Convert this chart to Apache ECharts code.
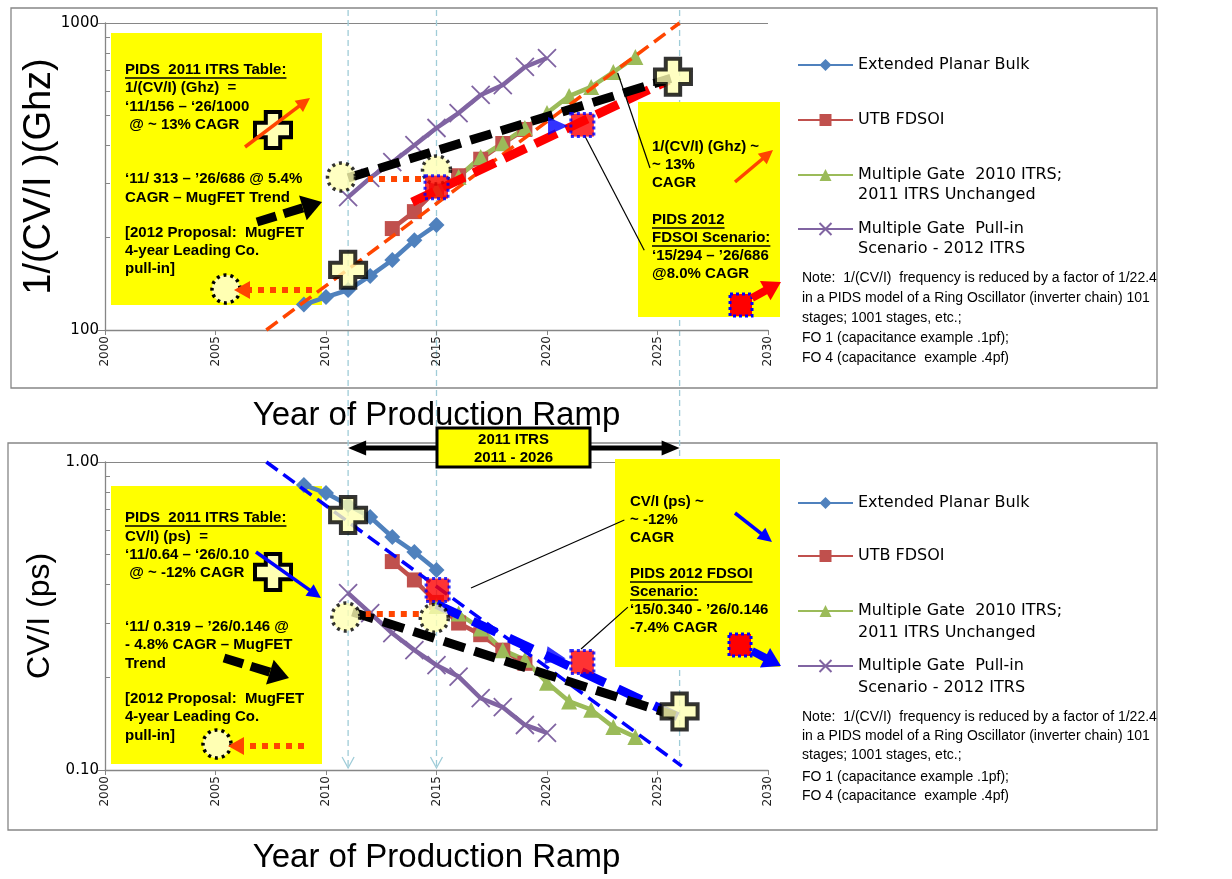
<!DOCTYPE html>
<html><head><meta charset="utf-8">
<script src="https://cdn.jsdelivr.net/npm/echarts@6/dist/echarts.min.js"></script>
<style>html,body{margin:0;padding:0;background:#fff}#c{width:1232px;height:879px}</style>
</head><body><div id="c"></div>
<script>
// ---------------- data ----------------
const seriesNames = ['Extended Planar Bulk', 'UTB FDSOI', 'Multiple Gate  2010 ITRS;\n2011 ITRS Unchanged', 'Multiple Gate  Pull-in\nScenario - 2012 ITRS'];
const planarYears = [2009, 2010, 2011, 2012, 2013, 2014, 2015];
const planarGhz   = [121, 128, 135, 150, 169, 196, 220];
const planarPs    = [0.842, 0.793, 0.725, 0.663, 0.571, 0.510, 0.446];
const fdsoiYears  = [2013, 2014, 2015, 2016, 2017, 2018, 2019];
const fdsoiGhz    = [214, 243, 286, 318, 360, 405, 450];
const fdsoiPs     = [0.475, 0.414, 0.35, 0.30, 0.275, 0.245, 0.222];
const mg2010Years = [2015, 2016, 2017, 2018, 2019, 2020, 2021, 2022, 2023, 2024];
const mg2010Ghz   = [286, 315, 366, 406, 455, 509, 578, 619, 692, 775];
const mg2010Ps    = [0.341, 0.322, 0.288, 0.245, 0.228, 0.192, 0.167, 0.157, 0.138, 0.128];
const pullinYears = [2011, 2012, 2013, 2014, 2015, 2016, 2017, 2018, 2019, 2020];
const pullinGhz   = [271, 313, 352, 400, 455, 509, 583, 628, 719, 769];
const pullinPs    = [0.375, 0.323, 0.278, 0.245, 0.219, 0.201, 0.171, 0.160, 0.140, 0.132];

const xTicks = [2000, 2005, 2010, 2015, 2020, 2025, 2030];
const ghzTickLabels = [100, 1000];
const ghzMinorTicks = [200, 300, 400, 500, 600, 700, 800, 900];
const psTickLabels = [0.1, 1];
const psMinorTicks = [0.2, 0.3, 0.4, 0.5, 0.6, 0.7, 0.8, 0.9];
const markerYears = [2011, 2015, 2026];

// annotation trend lines (data coordinates)
const itrsTrendGhz   = [[2007.3, 100], [2026, 1000]];
const mugfetTrendGhz = [[2011, 313], [2025.6, 660]];
const fdsoiTrendGhz  = [[2013.9, 261], [2025.5, 650]];
const pullinArrowGhz = [[2014.3, 312], [2011.9, 312]];
const calloutGhzA    = [[2024.66, 337], [2023.2, 687]];
const calloutGhzB    = [[2024.4, 182], [2021.7, 430]];
const circlesGhz     = [[2010.7, 315], [2015, 332]];
const squaresGhz     = [[2015, 292], [2021.6, 465]];
const crossesGhz     = [[2011, 157], [2025.7, 668]];
const blueHeadGhz    = [2020.5, 462];

const itrsTrendPs   = [[2007.3, 1.0], [2026.1, 0.103]];
const mugfetTrendPs = [[2011.2, 0.326], [2025.8, 0.150]];
const fdsoiTrendPs  = [[2015, 0.345], [2026, 0.148]];
const pullinArrowPs = [[2014.2, 0.322], [2011.8, 0.322]];
const calloutPsA    = [[2023.5, 0.648], [2016.56, 0.39]];
const calloutPsB    = [[2023.66, 0.338], [2021.54, 0.247]];
const circlesPs     = [[2010.9, 0.314], [2014.9, 0.311]];
const squaresPs     = [[2015.05, 0.384], [2021.6, 0.224]];
const crossesPs     = [[2011, 0.673], [2026, 0.155]];
const blueHeadPs    = [2020.4, 0.233];

// ---------------- styles ----------------
const COLORS = ['#4F81BD', '#C0504D', '#9BBB59', '#8064A2'];
const SYMBOLS = ['diamond', 'rect', 'triangle', 'path://M0,0L10,10M10,0L0,10'];
const SIZES = [16, 15, 16, 18];
const AXIS_GRAY = '#868686';
const ORANGE = '#FF4500';
const LIGHT_Y = '#FFFFB3';
const CROSS_PATH = 'path://M6,0H14V6H20V14H14V20H6V14H0V6H6Z';

function zip(xs, ys) { return xs.map((x, i) => [x, ys[i]]); }

function dataSeries(idx, xs, ys, xi, yi) {
  const isX = idx === 3;
  return {
    type: 'line', name: seriesNames[idx], xAxisIndex: xi, yAxisIndex: yi,
    data: zip(xs, ys), symbol: SYMBOLS[idx], symbolSize: SIZES[idx], showAllSymbol: true,
    lineStyle: { color: COLORS[idx], width: 4.5 },
    itemStyle: isX ? { color: COLORS[idx], borderColor: COLORS[idx], borderWidth: 1.8 } : { color: COLORS[idx] },
    z: 2, silent: true
  };
}

function annLine(xi, yi, pts, color, width, dash, endSize) {
  return {
    type: 'line', xAxisIndex: xi, yAxisIndex: yi, data: pts, symbol: 'none',
    lineStyle: { opacity: 0 }, silent: true, z: 5,
    markLine: {
      silent: true, animation: false, symbol: ['none', 'arrow'], symbolSize: [0, endSize],
      label: { show: false }, emphasis: { disabled: true },
      lineStyle: { color: color, width: width, type: dash, cap: 'butt' },
      data: [[{ coord: pts[0] }, { coord: pts[1] }]]
    }
  };
}

function annPoints(xi, yi, circles, squares, crosses, blueHead, rot) {
  const d = [];
  circles.forEach(p => d.push({ value: p, symbol: 'circle', symbolSize: 28,
    itemStyle: { color: LIGHT_Y, borderColor: '#000', borderWidth: 3.5, borderType: [3, 4] } }));
  d.push({ value: blueHead, symbol: 'triangle', symbolSize: [18, 20], symbolRotate: rot,
    itemStyle: { color: '#0000FF' } });
  squares.forEach(p => d.push({ value: p, symbol: 'rect', symbolSize: 23,
    itemStyle: { color: '#FF0000', borderColor: '#0000FF', borderWidth: 3, borderType: [3, 3] } }));
  crosses.forEach(p => d.push({ value: p, symbol: CROSS_PATH, symbolSize: 36,
    itemStyle: { color: LIGHT_Y, borderColor: '#000', borderWidth: 4 } }));
  return { type: 'scatter', xAxisIndex: xi, yAxisIndex: yi, data: d, z: 6, silent: true };
}

function xAxisDef(gi, gap) {
  return {
    type: 'value', gridIndex: gi, min: 2000, max: 2030, interval: 5,
    name: 'Year of Production Ramp', nameLocation: 'middle', nameGap: gap, nameMoveOverlap: false,
    nameTextStyle: { fontFamily: 'Liberation Sans', fontSize: 33, color: '#000' },
    axisLine: { lineStyle: { color: AXIS_GRAY, width: 1.3 } },
    axisTick: { show: true, length: 5, lineStyle: { color: AXIS_GRAY } },
    axisLabel: { rotate: 90, margin: 6, fontFamily: 'DejaVu Sans', fontSize: 12, color: '#222',
      customValues: xTicks, formatter: v => String(v) },
    splitLine: { show: false }
  };
}

function yMain(gi, name, min, max, labels, fmt, nameSize, nameGap) {
  return {
    type: 'log', logBase: 10, gridIndex: gi, min: min, max: max,
    name: name, nameLocation: 'middle', nameRotate: 90, nameGap: nameGap, nameMoveOverlap: false,
    nameTextStyle: { fontFamily: 'Liberation Sans', fontSize: nameSize, color: '#000' },
    axisLine: { show: true, lineStyle: { color: AXIS_GRAY, width: 1.3 } },
    axisTick: { show: true, length: 7, customValues: labels, lineStyle: { color: AXIS_GRAY } },
    axisLabel: { margin: 6, fontFamily: 'DejaVu Sans', fontSize: 15, color: '#000',
      customValues: labels, formatter: fmt },
    splitLine: { show: true, lineStyle: { color: AXIS_GRAY, width: 1 } }
  };
}
function yMinor(gi, min, max, ticks) {
  return {
    type: 'log', logBase: 10, gridIndex: gi, min: min, max: max, position: 'left',
    axisLine: { show: false }, axisLabel: { show: false }, splitLine: { show: false },
    axisTick: { show: true, inside: true, length: 5, customValues: ticks, lineStyle: { color: AXIS_GRAY } }
  };
}

const legendCommon = {
  orient: 'vertical', left: 797, itemWidth: 55, itemHeight: 15, itemGap: 0, padding: 0,
  selectedMode: false
};
function legendItem(name, top, lh, twoLine) {
  return Object.assign({}, legendCommon, {
    top: top, data: [name],
    formatter: twoLine ? (n => '\n' + n) : (n => n),
    textStyle: { fontFamily: 'DejaVu Sans', fontSize: 16, color: '#000', lineHeight: lh }
  });
}

const option = {
  animation: false,
  backgroundColor: '#ffffff',
  grid: [
    { left: 105, right: 464, top: 23, height: 307 },
    { left: 105, right: 464, top: 462, height: 308 }
  ],
  xAxis: [xAxisDef(0, 69), xAxisDef(1, 71)],
  yAxis: [
    yMain(0, '1/(CV/I )(Ghz)', 100, 1000, ghzTickLabels, v => String(Math.round(v)), 38, 46),
    yMinor(0, 100, 1000, ghzMinorTicks),
    yMain(1, 'CV/I (ps)', 0.1, 1, psTickLabels, v => Number(v).toFixed(2), 32, 49),
    yMinor(1, 0.1, 1, psMinorTicks)
  ],
  legend: [
    legendItem(seriesNames[0], 55, 20, false),
    legendItem(seriesNames[1], 110, 20, false),
    legendItem(seriesNames[2], 145, 20, true),
    legendItem(seriesNames[3], 199, 20, true),
    legendItem(seriesNames[0], 492, 22, false),
    legendItem(seriesNames[1], 545, 22, false),
    legendItem(seriesNames[2], 578, 22, true),
    legendItem(seriesNames[3], 633, 22, true)
  ],
  series: [
    dataSeries(0, planarYears, planarGhz, 0, 0),
    dataSeries(1, fdsoiYears, fdsoiGhz, 0, 0),
    dataSeries(2, mg2010Years, mg2010Ghz, 0, 0),
    dataSeries(3, pullinYears, pullinGhz, 0, 0),
    dataSeries(0, planarYears, planarPs, 1, 2),
    dataSeries(1, fdsoiYears, fdsoiPs, 1, 2),
    dataSeries(2, mg2010Years, mg2010Ps, 1, 2),
    dataSeries(3, pullinYears, pullinPs, 1, 2),
    // top annotations
    annLine(0, 0, itrsTrendGhz, ORANGE, 3.5, [14, 7], 14),
    annLine(0, 0, fdsoiTrendGhz, '#FF0000', 9, [24, 10], 24),
    annLine(0, 0, mugfetTrendGhz, '#000000', 9, [22, 10], 26),
    annLine(0, 0, pullinArrowGhz, ORANGE, 6, [6, 6], 16),
    annLine(0, 0, calloutGhzA, '#000000', 1.2, 'solid', 9),
    annLine(0, 0, calloutGhzB, '#000000', 1.2, 'solid', 9),
    annPoints(0, 0, circlesGhz, squaresGhz, crossesGhz, blueHeadGhz, -90),
    // bottom annotations
    annLine(1, 2, itrsTrendPs, '#0000FF', 3.5, [14, 7], 14),
    annLine(1, 2, fdsoiTrendPs, '#0000FF', 9, [26, 14], 24),
    annLine(1, 2, mugfetTrendPs, '#000000', 9, [22, 10], 26),
    annLine(1, 2, pullinArrowPs, ORANGE, 6, [6, 6], 16),
    annLine(1, 2, calloutPsA, '#000000', 1.2, 'solid', 9),
    annLine(1, 2, calloutPsB, '#000000', 1.2, 'solid', 9),
    annPoints(1, 2, circlesPs, squaresPs, crossesPs, blueHeadPs, -100)
  ]
};

const chart = echarts.init(document.getElementById('c'), null, { renderer: 'canvas' });
chart.setOption(option);

// ---------------- annotation graphics (boxes, keys, guides) ----------------
const g = [];
const mctx = document.createElement('canvas').getContext('2d');
const BOXFONT = 'bold 15px "Liberation Sans", Arial, sans-serif';
const NOTEFONT = '14px "Liberation Sans", Arial, sans-serif';

function rect(x, y, w, h, fill, stroke, lw, z) {
  g.push({ type: 'rect', z: z, silent: true, shape: { x: x, y: y, width: w, height: h },
    style: { fill: fill, stroke: stroke, lineWidth: lw } });
}
function text(x, y, str, font, underline, align, z) {
  g.push({ type: 'text', z: z || 3, silent: true, x: x, y: y,
    style: { text: str, font: font, fill: '#000', verticalAlign: 'middle', align: align || 'left' } });
  if (underline) {
    mctx.font = font;
    const w = mctx.measureText(str).width;
    g.push({ type: 'line', z: z || 3, silent: true, shape: { x1: x, y1: y + 8, x2: x + w, y2: y + 8 },
      style: { stroke: '#000', lineWidth: 1.6 } });
  }
}
function line(x1, y1, x2, y2, color, w, dash, z) {
  g.push({ type: 'line', z: z, silent: true, shape: { x1: x1, y1: y1, x2: x2, y2: y2 },
    style: { stroke: color, lineWidth: w, lineDash: dash || null, lineCap: 'butt' } });
}
function arrow(x1, y1, x2, y2, color, w, dash, hl, hw, z) {
  const dx = x2 - x1, dy = y2 - y1, L = Math.hypot(dx, dy), ux = dx / L, uy = dy / L;
  const bx = x2 - ux * hl, by = y2 - uy * hl;
  line(x1, y1, bx + ux * 2, by + uy * 2, color, w, dash, z);
  g.push({ type: 'polygon', z: z, silent: true,
    shape: { points: [[x2, y2], [bx - uy * hw / 2, by + ux * hw / 2], [bx + uy * hw / 2, by - ux * hw / 2]] },
    style: { fill: color } });
}
function cross(cx, cy, s, z) {
  const a = s / 2, b = s * 0.2;
  const pts = [[-b, -a], [b, -a], [b, -b], [a, -b], [a, b], [b, b], [b, a], [-b, a], [-b, b], [-a, b], [-a, -b], [-b, -b]]
    .map(p => [cx + p[0], cy + p[1]]);
  g.push({ type: 'polygon', z: z, silent: true, shape: { points: pts },
    style: { fill: LIGHT_Y, stroke: '#000', lineWidth: 4 } });
}
function dotCircle(cx, cy, r, z) {
  g.push({ type: 'circle', z: z, silent: true, shape: { cx: cx, cy: cy, r: r },
    style: { fill: LIGHT_Y, stroke: '#000', lineWidth: 3.5, lineDash: [3, 4] } });
}
function redSquare(cx, cy, s, z) {
  g.push({ type: 'rect', z: z, silent: true, shape: { x: cx - s / 2, y: cy - s / 2, width: s, height: s },
    style: { fill: '#FF0000', stroke: '#0000FF', lineWidth: 3, lineDash: [3, 3] } });
}

// frames
rect(11, 8, 1146, 380, 'none', AXIS_GRAY, 1.3, 0);
rect(8, 443, 1149, 387, 'none', AXIS_GRAY, 1.3, 0);

// vertical guide lines through both panels
const GUIDE = '#9FCCD8';
markerYears.forEach((yr, i) => {
  const x = chart.convertToPixel({ xAxisIndex: 0 }, yr);
  line(x, 10, x, i < 2 ? 768 : 770, GUIDE, 1.3, [6, 4], 0);
  if (i < 2) {
    g.push({ type: 'polyline', z: 0, silent: true, shape: { points: [[x - 6, 757], [x, 768], [x + 6, 757]] },
      style: { stroke: GUIDE, lineWidth: 1.3, fill: 'none' } });
  }
});

// yellow boxes
rect(111, 33, 211, 272, '#FFFF00', null, 0, 1);
rect(638, 102, 142, 215, '#FFFF00', null, 0, 1);
rect(111, 486, 211, 278, '#FFFF00', null, 0, 1);
rect(615, 459, 165, 208, '#FFFF00', null, 0, 1);

// top-left box text + keys
text(125, 70, 'PIDS  2011 ITRS Table:', BOXFONT, true);
text(125, 88, '1/(CV/I) (Ghz)  =', BOXFONT);
text(125, 107, '\u201811/156 \u2013 \u201826/1000', BOXFONT);
text(125, 125, ' @ ~ 13% CAGR', BOXFONT);
text(125, 179, '\u201811/ 313 \u2013 \u201926/686 @ 5.4%', BOXFONT);
text(125, 198, 'CAGR \u2013 MugFET Trend', BOXFONT);
text(125, 233, '[2012 Proposal:  MugFET', BOXFONT);
text(125, 251, '4-year Leading Co.', BOXFONT);
text(125, 269, 'pull-in]', BOXFONT);
cross(273, 130, 36, 3);
arrow(245, 147, 310, 98, ORANGE, 3.5, null, 14, 14, 4);
arrow(257, 222, 322, 202, '#000', 9, [20, 8], 20, 26, 4);
dotCircle(226, 289, 14, 3);
arrow(312, 290, 234, 290, ORANGE, 6, [6, 6], 16, 18, 4);

// top-right box
text(652, 147, '1/(CV/I) (Ghz) ~', BOXFONT);
text(652, 165, '~ 13%', BOXFONT);
text(652, 183, 'CAGR', BOXFONT);
text(652, 220, 'PIDS 2012', BOXFONT, true);
text(652, 238, 'FDSOI Scenario:', BOXFONT, true);
text(652, 256, '\u201815/294 \u2013 \u201926/686', BOXFONT);
text(652, 274, '@8.0% CAGR', BOXFONT);
arrow(735, 182, 773, 150, ORANGE, 3.5, null, 14, 14, 4);
redSquare(741, 305, 22, 3);
arrow(752, 298, 781, 282, '#FF0000', 8, null, 18, 22, 4);

// bottom-left box
text(125, 518, 'PIDS  2011 ITRS Table:', BOXFONT, true);
text(125, 537, 'CV/I) (ps)  =', BOXFONT);
text(125, 555, '\u201811/0.64 \u2013 \u201826/0.10', BOXFONT);
text(125, 573, ' @ ~ -12% CAGR', BOXFONT);
text(125, 627, '\u201811/ 0.319 \u2013 \u201926/0.146 @', BOXFONT);
text(125, 645, '- 4.8% CAGR \u2013 MugFET', BOXFONT);
text(125, 664, 'Trend', BOXFONT);
text(125, 699, '[2012 Proposal:  MugFET', BOXFONT);
text(125, 717, '4-year Leading Co.', BOXFONT);
text(125, 736, 'pull-in]', BOXFONT);
cross(273, 572, 36, 3);
arrow(256, 552, 321, 598, '#0000FF', 3.5, null, 14, 14, 4);
arrow(224, 658, 289, 678, '#000', 9, [20, 8], 20, 26, 4);
dotCircle(217, 744, 14, 3);
arrow(304, 746, 228, 746, ORANGE, 6, [6, 6], 16, 18, 4);

// bottom-right box
text(630, 502, 'CV/I (ps) ~', BOXFONT);
text(630, 520, '~ -12%', BOXFONT);
text(630, 538, 'CAGR', BOXFONT);
text(630, 574, 'PIDS 2012 FDSOI', BOXFONT, true);
text(630, 592, 'Scenario:', BOXFONT, true);
text(630, 610, '\u201815/0.340 - \u201926/0.146', BOXFONT);
text(630, 628, '-7.4% CAGR', BOXFONT);
arrow(735, 513, 772, 542, '#0000FF', 3.5, null, 14, 14, 4);
redSquare(740, 645, 22, 3);
arrow(752, 651, 781, 666, '#0000FF', 8, null, 18, 22, 4);

// 2011 ITRS span arrow + box
const xa = chart.convertToPixel({ xAxisIndex: 1 }, 2011);
const xb = chart.convertToPixel({ xAxisIndex: 1 }, 2026);
arrow((xa + xb) / 2, 448, xa, 448, '#000', 5, null, 18, 15, 3);
arrow((xa + xb) / 2, 448, xb, 448, '#000', 5, null, 18, 15, 3);
rect(437, 428, 153, 39, '#FFFF00', '#000', 3, 7);
text(513.5, 440, '2011 ITRS', BOXFONT, false, 'center', 8);
text(513.5, 458, '2011 - 2026', BOXFONT, false, 'center', 8);

// notes
const noteLines = ['Note:  1/(CV/I)  frequency is reduced by a factor of 1/22.4',
  'in a PIDS model of a Ring Oscillator (inverter chain) 101',
  'stages; 1001 stages, etc.;',
  'FO 1 (capacitance example .1pf);',
  'FO 4 (capacitance  example .4pf)'];
[278, 298, 318, 338, 358].forEach((y, i) => text(802, y, noteLines[i], NOTEFONT));
[717, 736, 755, 777, 796].forEach((y, i) => text(802, y, noteLines[i], NOTEFONT));

chart.setOption({ graphic: { elements: g } });
</script>
</body></html>
